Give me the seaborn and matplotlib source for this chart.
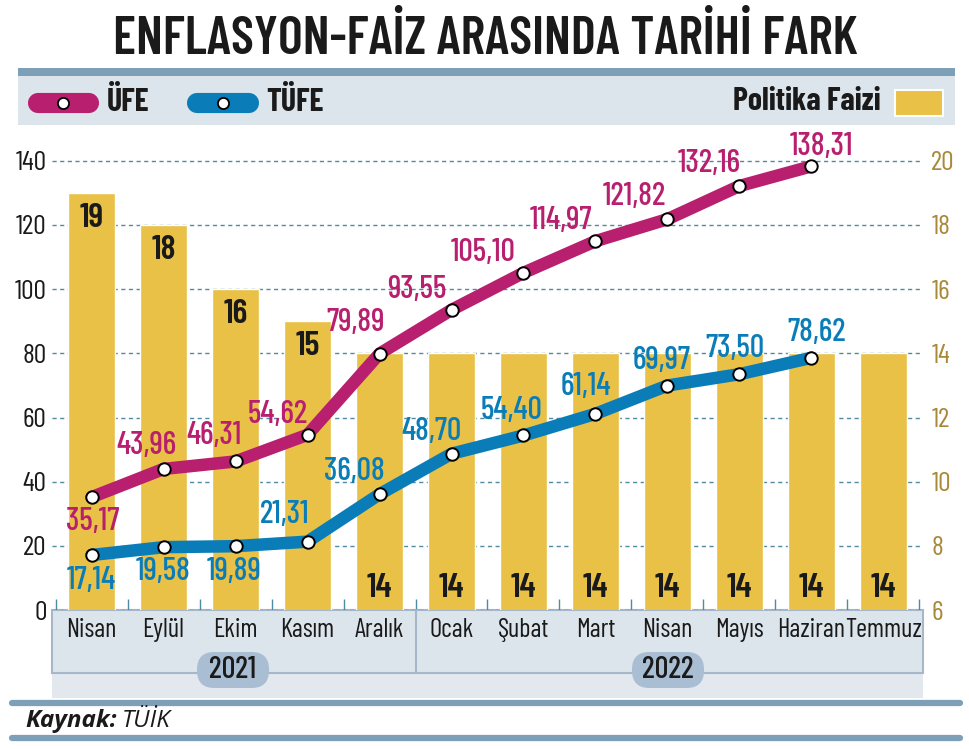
import numpy as np
import pandas as pd
import matplotlib
matplotlib.use("Agg")
import matplotlib.pyplot as plt
from matplotlib.patches import Rectangle, FancyBboxPatch
import seaborn as sns

months = ["Nisan", "Eylül", "Ekim", "Kasım", "Aralık", "Ocak",
          "Şubat", "Mart", "Nisan", "Mayıs", "Haziran", "Temmuz"]
faiz = [19, 18, 16, 15, 14, 14, 14, 14, 14, 14, 14, 14]
ufe = [35.17, 43.96, 46.31, 54.62, 79.89, 93.55, 105.10, 114.97,
       121.82, 132.16, 138.31]
tufe = [17.14, 19.58, 19.89, 21.31, 36.08, 48.70, 54.40, 61.14,
        69.97, 73.50, 78.62]
years = ["2021", "2022"]

# label offsets from the point, in pixels (x right, y down)
ufe_off = [(1, 24), (-17, -23), (-21, -26), (-30, -20), (-24, -31),
           (-35, -20), (-40, -20), (-34, -21), (-33, -23), (-30, -22),
           (10, -20)]
tufe_off = [(0, 25), (0, 24), (-1, 25), (-23, -27), (-25, -23), (-20, -22),
            (-12, -25), (-10, -27), (-6, -25), (-5, -26), (5, -25)]

MAGENTA = "#b8206f"
BLUE = "#0a7db8"
YELLOW = "#e9c147"
GOLD = "#a8893a"
STEEL = "#7e9fb8"
PANEL = "#dde5ec"
GRID = "#4f8aa3"
INK = "#1a1a1a"

sns.set_theme(style="white")
plt.rcParams["font.family"] = ["Barlow Condensed", "DejaVu Sans"]

W, H = 970, 749
fig = plt.figure(figsize=(W / 100, H / 100), dpi=100)


def fx(x):
    return x / W


def fy(y):
    return 1 - y / H


def frect(x0, y0, x1, y1, **kw):
    r = Rectangle((fx(x0), fy(y1)), fx(x1) - fx(x0), fy(y0) - fy(y1),
                  transform=fig.transFigure, **kw)
    fig.add_artist(r)
    return r


# title
fig.text(0.5, fy(40), "ENFLASYON-FAİZ ARASINDA TARİHİ FARK", ha="center",
         va="center", fontsize=38, fontweight="semibold", color=INK)

# legend band
frect(18, 68, 955, 125, facecolor=PANEL, edgecolor="none", zorder=-2)
frect(18, 68, 955, 76, facecolor=STEEL, edgecolor="none", zorder=-1)
for x0, x1, col, name, tx in [(30, 97, MAGENTA, "ÜFE", 107),
                              (189, 257, BLUE, "TÜFE", 266)]:
    fig.add_artist(plt.Line2D([fx(x0 + 8), fx(x1 - 8)], [fy(103), fy(103)],
                              transform=fig.transFigure, color=col,
                              linewidth=14.5, solid_capstyle="round"))
    fig.add_artist(plt.Line2D([fx((x0 + x1) / 2)], [fy(103)],
                              transform=fig.transFigure, marker="o",
                              markersize=8, markerfacecolor="white",
                              markeredgecolor="black", markeredgewidth=1.3))
    fig.text(fx(tx), fy(102), name, ha="left", va="center", fontsize=23,
             fontweight="bold", color=INK)
fig.text(fx(881), fy(102), "Politika Faizi", ha="right", va="center",
         fontsize=23, fontweight="bold", color=INK)
frect(895, 90, 943, 116, facecolor=YELLOW, edgecolor="white", linewidth=1.5)

# bottom panel
frect(52, 610, 923, 698, facecolor="#e2e8ee", edgecolor="none", zorder=-2)
frect(52, 610, 923, 673, facecolor=PANEL, edgecolor="#a5b7c9",
      linewidth=1.5, zorder=-1)
fig.add_artist(plt.Line2D([fx(416), fx(416)], [fy(610), fy(673)],
                          transform=fig.transFigure, color="#a5b7c9",
                          linewidth=1.5))
for cx, yr in zip([233, 668], years):
    fig.add_artist(FancyBboxPatch((fx(cx - 36), fy(688)), fx(72),
                                  fy(652) - fy(688),
                                  boxstyle="round,pad=0,rounding_size=0.018",
                                  transform=fig.transFigure,
                                  facecolor="#a9bdd3", edgecolor="none",
                                  mutation_aspect=W / H))
    fig.text(fx(cx), fy(670), yr, ha="center", va="center", fontsize=22,
             fontweight="medium", color=INK)

# source
for y in (703, 738):
    fig.add_artist(plt.Line2D([fx(12), fx(960)], [fy(y), fy(y)],
                              transform=fig.transFigure, color=STEEL,
                              linewidth=4.5, solid_capstyle="round"))
fig.text(fx(25), fy(721), "Kaynak:", ha="left", va="center", fontsize=17.5,
         fontweight="bold", style="italic", color=INK,
         family=["Open Sans", "DejaVu Sans"])
fig.text(fx(122), fy(721), "TÜİK", ha="left", va="center", fontsize=17.5,
         style="italic", color=INK, family=["Open Sans", "DejaVu Sans"])

# axes: bars on rate scale (right), lines on index scale (left)
ax = fig.add_axes([fx(52), fy(610), fx(923 - 52), fy(148) - fy(610)])
ax.set_facecolor("none")
df_bar = pd.DataFrame({"pos": np.arange(len(months)), "faiz": faiz})
sns.barplot(data=df_bar, x="pos", y="faiz", color=YELLOW, saturation=1,
            width=0.65, ax=ax, zorder=1)
ax2 = ax.twinx()

ax.set_ylim(6, 20.4)
ax.set_xlim(-0.55, 11.55)
ax.yaxis.tick_right()
ax.set_yticks(range(6, 21, 2))
ax.tick_params(axis="y", length=0, pad=6, labelsize=20, labelcolor=GOLD)
ax.set_xticks(np.arange(len(months)))
ax.set_xticklabels(months)
ax.tick_params(axis="x", length=0, pad=6, labelsize=19, labelcolor=INK)
ax.set_xlabel("")
ax.set_ylabel("")
for s in ax.spines.values():
    s.set_visible(False)
for i, v in enumerate(faiz):
    if v > 14:
        ax.text(i, v - 0.3, str(v), ha="center", va="top", fontsize=25,
                fontweight="semibold", color=INK, zorder=2)
    else:
        ax.text(i, 6.2, str(v), ha="center", va="bottom", fontsize=25,
                fontweight="semibold", color=INK, zorder=2)

ax2.set_ylim(0, 144)
ax2.yaxis.tick_left()
ax2.set_yticks(range(0, 141, 20))
ax2.tick_params(axis="y", length=0, pad=4, labelsize=20, labelcolor=INK)
for s in ax2.spines.values():
    s.set_visible(False)
for g in range(0, 141, 20):
    ax.plot([-0.55, 11.55], [6 + g / 10] * 2, color=GRID, linewidth=1,
            linestyle=(0, (3, 2.5)), zorder=0.5)
ax.vlines(np.arange(-0.5, 12, 1), 6, 6.35, color=GRID, linewidth=1, zorder=0.5)

df_line = pd.DataFrame({"pos": np.arange(len(ufe)), "ufe": ufe, "tufe": tufe})
for col, c in [("ufe", MAGENTA), ("tufe", BLUE)]:
    sns.lineplot(data=df_line, x="pos", y=col, color=c, linewidth=9,
                 ax=ax2, zorder=3, solid_joinstyle="round",
                 solid_capstyle="round")
    ax2.scatter(df_line["pos"], df_line[col], s=80, facecolor="white",
                edgecolor="black", linewidth=1.4, zorder=4)
ax2.set_xlabel("")
ax2.set_ylabel("")


def fmt(v):
    return f"{v:.2f}".replace(".", ",")


for vals, offs, c in [(ufe, ufe_off, MAGENTA), (tufe, tufe_off, BLUE)]:
    for i, (v, (dx, dy)) in enumerate(zip(vals, offs)):
        ax2.annotate(fmt(v), (i, v), xytext=(dx * 0.72, -dy * 0.72),
                     textcoords="offset points", ha="center", va="center",
                     fontsize=23, fontweight="medium", color=c, zorder=5)

fig.savefig("out.png", dpi=100)
